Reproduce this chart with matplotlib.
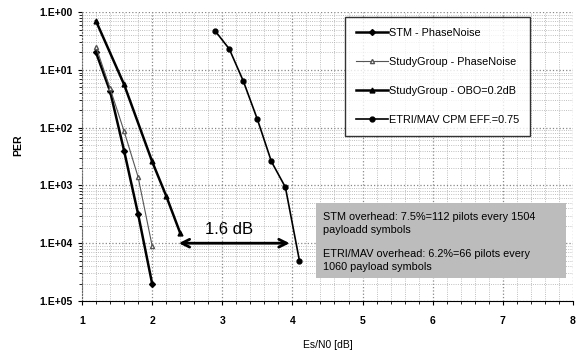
import numpy as np
import matplotlib.pyplot as plt
from matplotlib.patches import Rectangle
from matplotlib.ticker import FixedLocator, MultipleLocator, LogLocator, NullFormatter

plt.rcParams['font.family'] = ['Liberation Sans', 'DejaVu Sans']

# STM - PhaseNoise
stm_x = [1.2, 1.4, 1.6, 1.8, 2.0]
stm_per = [0.2, 0.043, 0.004, 3.2e-4, 2.0e-5]

# StudyGroup - PhaseNoise
sgpn_x = [1.2, 1.4, 1.6, 1.8, 2.0]
sgpn_per = [0.25, 0.048, 0.0087, 0.0014, 9.0e-5]

# StudyGroup - OBO=0.2dB
sgobo_x = [1.2, 1.6, 2.0, 2.2, 2.4]
sgobo_per = [0.7, 0.056, 0.0026, 6.6e-4, 1.5e-4]

# ETRI/MAV CPM EFF.=0.75
etri_x = [2.9, 3.1, 3.3, 3.5, 3.7, 3.9, 4.1]
etri_per = [0.47, 0.23, 0.064, 0.014, 0.0026, 9.3e-4, 5.0e-5]

ytick_vals = [1, 1e-1, 1e-2, 1e-3, 1e-4, 1e-5]
ytick_labels = ['1.E+00', '1.E+01', '1.E+02', '1.E+03', '1.E+04', '1.E+05']

fig = plt.figure(figsize=(5.79, 3.51), dpi=100)
ax = fig.add_axes([0.1416, 0.1425, 0.848, 0.823])

ax.plot(stm_x, stm_per, color='black', lw=1.8, marker='D', ms=3,
        label='STM - PhaseNoise')
ax.plot(sgpn_x, sgpn_per, color='#555555', lw=0.8, marker='^', ms=3,
        mfc='white', label='StudyGroup - PhaseNoise')
ax.plot(sgobo_x, sgobo_per, color='black', lw=1.8, marker='^', ms=3.5,
        label='StudyGroup - OBO=0.2dB')
ax.plot(etri_x, etri_per, color='black', lw=1.2, marker='o', ms=3.5,
        label='ETRI/MAV CPM EFF.=0.75')

ax.set_yscale('log')
ax.set_xlim(1, 8)
ax.set_ylim(1e-5, 1)
ax.yaxis.set_major_locator(FixedLocator(ytick_vals))
ax.set_yticklabels(ytick_labels)
ax.yaxis.set_minor_locator(LogLocator(base=10, subs=np.arange(2, 10)))
ax.yaxis.set_minor_formatter(NullFormatter())
ax.xaxis.set_major_locator(MultipleLocator(1))
ax.xaxis.set_minor_locator(MultipleLocator(0.2))

ax.grid(which='major', color='#888888', ls=':', lw=0.9)
ax.grid(which='minor', color='#aaaaaa', ls=':', lw=0.6)
ax.tick_params(which='major', labelsize=7.5, length=3)
ax.tick_params(which='minor', length=2)
for lab in ax.get_xticklabels() + ax.get_yticklabels():
    lab.set_fontweight('bold')
ax.tick_params(axis='x', pad=8)
for s in ['top', 'right']:
    ax.spines[s].set_visible(False)
ax.spines['left'].set_linestyle(':')
ax.spines['left'].set_color('#666666')

ax.set_ylabel('PER', fontsize=7.5, fontweight='bold')
ax.yaxis.set_label_coords(-0.12, 0.54)
ax.set_xlabel('Es/N0 [dB]', fontsize=7.5, labelpad=10)

# 1.6 dB arrow
ax.annotate('', xy=(2.34, 1e-4), xytext=(4.0, 1e-4),
            arrowprops=dict(arrowstyle='<->', lw=2, color='black',
                            mutation_scale=14))
ax.text(3.1, 10 ** -3.77, '1.6 dB', fontsize=12, ha='center', va='center')

# note box
ax.add_patch(Rectangle((4.34, 10 ** -4.6), 3.56, 10 ** -3.3 - 10 ** -4.6,
                       fc='#bcbcbc', ec='none', zorder=3))
ax.text(4.44, 10 ** -3.98,
        'STM overhead: 7.5%=112 pilots every 1504\npayloadd symbols\n\n'
        'ETRI/MAV overhead: 6.2%=66 pilots every\n1060 payload symbols',
        fontsize=7.8, ha='left', va='center', linespacing=1.3, zorder=4)

leg = ax.legend(loc='upper right', bbox_to_anchor=(0.913, 0.982), fontsize=7.8,
                frameon=True, fancybox=False, edgecolor='black',
                labelspacing=1.75, handlelength=3.0, handletextpad=0.1,
                borderpad=1.0, borderaxespad=0)
leg.get_frame().set_linewidth(1.0)

fig.savefig('out.png', dpi=100)
